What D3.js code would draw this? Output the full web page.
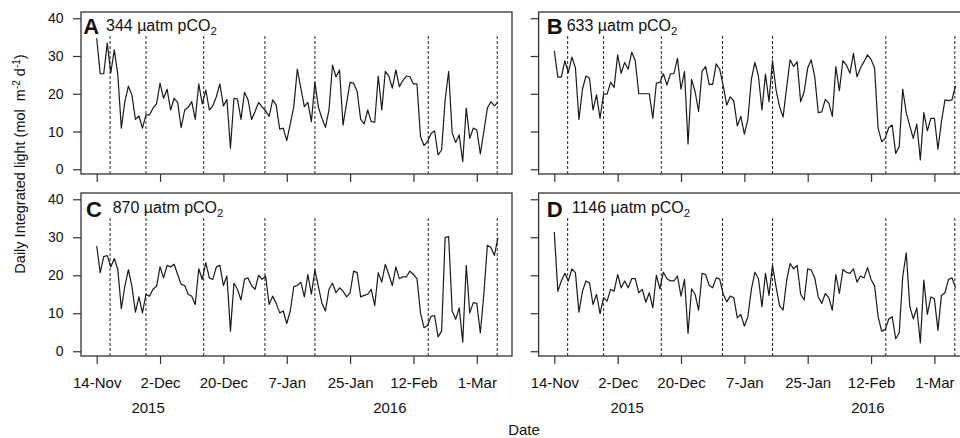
<!DOCTYPE html>
<meta charset="utf-8">
<script src="https://d3js.org/d3.v7.min.js"></script>
<style>
  body { margin: 0; background: #fff; }
  text { font-family: "Liberation Sans", Arial, sans-serif; fill: #111; }
</style>
<div id="chart"></div>
<script>

// daily values, first day is 14-Nov-2015
var startDay = "2015-11-14";

var lightA = [34.7,25.3,25.3,33.4,25.5,31.6,25.0,10.9,17.9,22.0,19.7,13.2,14.1,10.9,14.4,14.4,16.2,17.3,22.8,18.8,
  21.2,15.7,18.8,17.7,11.0,15.7,16.4,17.9,13.2,22.6,17.3,21.0,15.7,16.8,19.2,22.6,16.8,18.5,5.6,18.8,
  18.6,13.2,20.4,18.4,13.2,15.3,17.7,16.5,15.5,14.0,18.4,17.0,10.6,10.9,7.6,12.0,16.6,26.5,21.5,16.6,
  17.7,12.6,23.0,16.4,13.5,11.1,15.7,27.6,24.5,26.3,11.7,17.5,23.0,22.8,20.6,13.2,12.0,15.7,12.6,12.5,
  24.7,15.7,25.9,24.7,21.5,26.3,21.9,23.5,24.7,24.5,22.6,22.6,8.7,6.3,7.3,9.5,10.2,3.8,5.1,18.4,
  25.9,9.7,7.1,9.1,2.0,16.2,8.2,10.9,10.4,4.1,10.0,16.2,17.9,16.8,17.7];

var lightB = [31.4,24.4,24.4,28.7,25.6,29.7,26.9,13.2,21.2,24.7,24.1,15.7,19.7,13.5,19.9,19.9,23.0,21.7,30.3,25.4,
  28.3,26.5,31.0,28.8,20.0,20.0,20.0,20.0,13.5,22.8,23.0,25.3,22.3,25.3,25.3,29.4,21.2,25.9,6.7,23.8,
  20.6,15.3,26.0,27.2,22.5,22.5,27.9,26.5,22.0,17.0,19.2,18.1,11.5,14.0,9.3,13.2,23.9,28.3,24.7,15.7,
  25.2,17.9,28.8,21.0,16.6,13.8,21.5,29.0,27.2,28.5,17.9,20.6,26.8,29.0,24.5,15.0,15.2,18.5,17.5,14.0,
  27.2,20.8,28.8,27.6,25.4,30.7,24.5,26.8,28.5,30.3,29.1,26.8,10.9,7.3,8.2,11.0,11.7,4.2,6.0,21.2,
  15.0,11.5,8.2,12.0,2.5,15.0,10.2,13.5,13.5,5.3,12.6,18.4,18.2,18.4,22.1];

var lightC = [27.7,20.7,24.9,25.2,22.2,24.4,21.5,11.2,17.1,21.5,17.1,10.3,14.3,10.1,15.0,14.5,16.3,17.1,22.2,19.3,
  22.6,22.2,22.9,20.2,17.6,17.3,15.0,14.5,12.3,21.7,18.9,23.3,19.3,18.9,22.2,22.6,17.3,19.8,5.3,17.9,
  16.3,13.5,19.0,19.3,17.3,16.3,20.0,18.9,19.8,12.3,14.5,12.6,10.1,10.6,7.3,10.6,17.0,17.3,18.2,14.3,
  20.2,15.0,21.4,17.0,12.6,10.6,16.3,17.9,15.4,16.7,15.8,14.3,15.4,21.1,20.7,14.3,14.7,15.0,16.3,12.0,
  20.7,18.2,22.9,20.2,17.3,22.2,19.1,19.6,19.6,21.1,20.2,19.1,10.1,6.2,6.8,9.2,9.4,3.8,5.3,29.9,
  30.2,10.6,8.4,11.4,2.4,22.6,10.1,12.8,12.6,4.8,15.0,27.9,27.3,25.2,29.9];

var lightD = [31.4,15.8,18.5,20.5,18.5,21.7,20.7,10.3,15.8,18.5,18.0,12.3,15.0,9.9,14.1,13.2,16.3,15.8,20.2,16.7,
  18.5,16.7,19.1,19.1,15.4,16.3,12.9,15.4,11.4,20.0,16.4,20.8,19.1,18.5,18.5,19.8,14.5,18.9,4.7,16.4,
  15.0,10.8,20.5,20.2,17.3,16.7,19.3,19.0,15.0,13.0,14.5,14.1,8.8,9.7,6.6,9.1,16.3,20.8,19.1,11.7,
  20.5,14.7,22.6,17.0,12.0,10.8,18.5,23.1,21.7,22.6,15.0,13.5,21.7,21.4,19.3,14.3,12.6,15.2,14.1,10.8,
  20.2,15.2,21.5,20.8,20.5,21.7,18.2,19.8,19.3,22.0,18.9,17.2,9.2,5.3,5.7,8.4,9.1,3.3,4.8,19.6,
  25.9,11.9,8.5,11.4,2.2,18.7,9.7,14.3,13.8,5.5,14.7,15.4,18.9,19.3,16.7];

var panelLetters = ["A", "B", "C", "D"];
var co2Levels = ["344", "633", "870", "1146"];

// dashed markers, in days after startDay
var markerDays = [3.8, 14, 30.4, 47.8, 62, 94.2, 113.8];

var tickDates = ["2015-11-14", "2015-12-02", "2015-12-20", "2016-01-07", "2016-01-25", "2016-02-12", "2016-03-01"];
var yTicks = [0, 10, 20, 30, 40];

// year labels under the axis, in days after startDay (left column, right column)
var yearNames = ["2015", "2016"];
var yearDaysLeft = [14.6, 83.3];
var yearDaysRight = [20.7, 89.1];

var parseDay = d3.timeParse("%Y-%m-%d");
var t0 = parseDay(startDay);
function dayToDate(d) { return new Date(t0.getTime() + d * 864e5); }

var W = 960, H = 438;
var colX = [81, 538.6], panelW = 431;
var rowY = [12, 193], rowH = [162, 163];
// text placement inside each panel: [letter x, text x]
var labelOff = [[2.3, 25], [8.1, 28.1], [5, 31.7], [8.1, 33.1]];

var svg = d3.select("#chart").append("svg")
  .attr("width", W).attr("height", H);

var series = [lightA, lightB, lightC, lightD];

series.forEach(function(vals, i) {
  var col = i % 2, row = Math.floor(i / 2);
  var x0 = colX[col], y0 = rowY[row], h = rowH[row];

  var x = d3.scaleTime()
    .domain([dayToDate(-4.46), dayToDate(118)])
    .range([x0, x0 + panelW]);
  var y = d3.scaleLinear()
    .domain([-1.25, 41.65])
    .range([y0 + h, y0]);

  var g = svg.append("g");

  // dashed vertical markers
  g.selectAll(".mark").data(markerDays).enter().append("line")
    .attr("x1", d => x(dayToDate(d))).attr("x2", d => x(dayToDate(d)))
    .attr("y1", y(-1.25)).attr("y2", y(35.5))
    .attr("stroke", "#222").attr("stroke-width", 1)
    .attr("stroke-dasharray", "3,2");

  // light line
  var line = d3.line()
    .x((d, k) => x(dayToDate(k)))
    .y(d => y(d));
  g.append("path").datum(vals)
    .attr("d", line)
    .attr("fill", "none")
    .attr("stroke", "#1a1a1a")
    .attr("stroke-width", 1.2)
    .attr("stroke-linejoin", "round");

  // box
  g.append("rect")
    .attr("x", x0).attr("y", y0).attr("width", panelW).attr("height", h)
    .attr("fill", "none").attr("stroke", "#333").attr("stroke-width", 1.3);

  // y axis
  var yAxis = g.append("g")
    .attr("transform", "translate(" + x0 + ",0)")
    .call(d3.axisLeft(y).tickValues(yTicks).tickSize(8).tickPadding(9.5)
      .tickFormat(col === 0 ? d3.format("d") : ""));
  yAxis.select(".domain").remove();
  yAxis.selectAll("line").attr("stroke", "#333").attr("stroke-width", 1.2);
  yAxis.selectAll("text").attr("font-size", 14).attr("fill", "#111")
    .attr("font-family", "Liberation Sans, Arial, sans-serif");

  // x axis
  var xAxis = g.append("g")
    .attr("transform", "translate(0," + (y0 + h) + ")")
    .call(d3.axisBottom(x).tickValues(tickDates.map(parseDay)).tickSize(8).tickPadding(13.5)
      .tickFormat(row === 1 ? d3.timeFormat("%-d-%b") : ""));
  xAxis.select(".domain").remove();
  xAxis.selectAll("line").attr("stroke", "#333").attr("stroke-width", 1.2);
  xAxis.selectAll("text").attr("font-size", 15).attr("fill", "#111")
    .attr("font-family", "Liberation Sans, Arial, sans-serif");

  if (row === 1) {
    var yd = col === 0 ? yearDaysLeft : yearDaysRight;
    g.selectAll(".yr").data(yearNames).enter().append("text")
      .attr("x", (d, k) => x(dayToDate(yd[k])))
      .attr("y", y0 + h + 56.5)
      .attr("text-anchor", "middle")
      .attr("font-size", 15)
      .text(d => d);
  }

  // panel letter and pCO2 label
  g.append("text")
    .attr("x", x0 + labelOff[i][0]).attr("y", y0 + 21.5 + row * 2)
    .attr("font-size", 22).attr("font-weight", "bold")
    .text(panelLetters[i]);
  var lab = g.append("text")
    .attr("x", x0 + labelOff[i][1]).attr("y", y0 + 18.7 + row * 1.6)
    .attr("font-size", 16);
  lab.append("tspan").text(co2Levels[i] + " \u00b5atm pCO");
  lab.append("tspan").attr("dy", 4).attr("font-size", 11.5).text("2");
});

// axis titles
var yt = svg.append("text")
  .attr("transform", "translate(25,164) rotate(-90)")
  .attr("text-anchor", "middle")
  .attr("font-size", 14.5);
yt.append("tspan").text("Daily Integrated light (mol \u00a0m");
yt.append("tspan").attr("dy", -5).attr("font-size", 10).text("-2");
yt.append("tspan").attr("dy", 5).text(" d");
yt.append("tspan").attr("dy", -5).attr("font-size", 10).text("-1");
yt.append("tspan").attr("dy", 5).text(")");

svg.append("text")
  .attr("x", 524).attr("y", 435)
  .attr("text-anchor", "middle")
  .attr("font-size", 15)
  .text("Date");

</script>
